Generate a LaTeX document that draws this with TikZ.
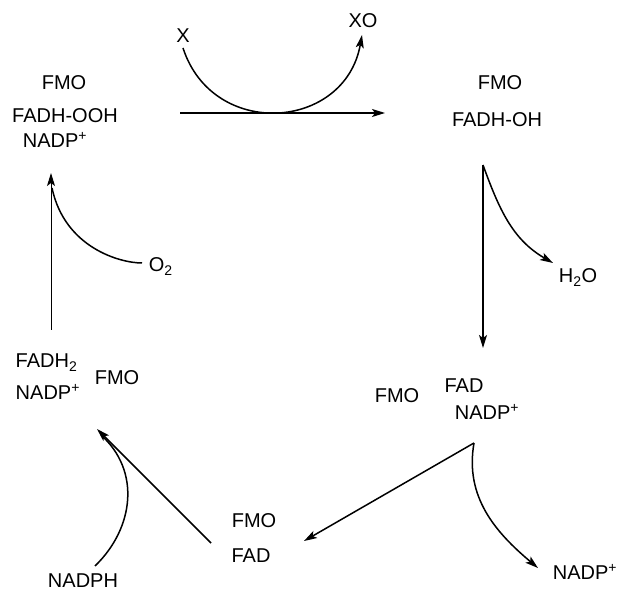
\documentclass[tikz,border=0pt]{standalone}
\usepackage{fontspec}
\setmainfont{Liberation Sans}
\usetikzlibrary{arrows.meta}

\begin{document}
\begin{tikzpicture}[>={Stealth[length=13pt, width=8pt, inset=3pt]}, x=1pt, y=1pt,
    line width=1.5pt,
    lbl/.style={inner sep=0pt, font=\fontsize{20}{24}\selectfont}]
  \useasboundingbox (0,0) rectangle (620,593);

  % FMO FADH-OOH NADP+
  \node[lbl, anchor=base] (fmoA) at (64,503) {FMO};
  \node[lbl, anchor=base] (fadhooh) at (65,470) {FADH-OOH};
  \node[lbl, anchor=base] (nadpA) at (55,445) {NADP\textsuperscript{+}};

  % FMO FADH-OH
  \node[lbl, anchor=base] (fmoB) at (500,503) {FMO};
  \node[lbl, anchor=base] (fadhoh) at (497,466) {FADH-OH};

  % FMO FAD NADP+
  \node[lbl, anchor=base] (fmoC) at (397,190) {FMO};
  \node[lbl, anchor=base] (fadC) at (464,200) {FAD};
  \node[lbl, anchor=base] (nadpC) at (487,173) {NADP\textsuperscript{+}};

  % FMO FAD
  \node[lbl, anchor=base] (fmoD) at (254,65) {FMO};
  \node[lbl, anchor=base] (fadD) at (251,30) {FAD};

  % FADH2 NADP+ FMO
  \node[lbl, anchor=base west] (fadhE) at (15,225) {FADH\textsubscript{2}};
  \node[lbl, anchor=base west] (nadpE) at (15,193) {NADP\textsuperscript{+}};
  \node[lbl, anchor=base] (fmoE) at (117,208) {FMO};

  % substrates and products
  \node[lbl, anchor=base] (subX) at (183,550) {X};
  \node[lbl, anchor=base] (prodXO) at (363,565) {XO};
  \node[lbl, anchor=base] (water) at (578,310) {H\textsubscript{2}O};
  \node[lbl, anchor=base] (nadpOut) at (585,13) {NADP\textsuperscript{+}};
  \node[lbl, anchor=base] (nadph) at (83,5) {NADPH};
  \node[lbl, anchor=base west] (oxy) at (148,321) {O\textsubscript{2}};

  % arrow ends
  \coordinate (topL) at (180,480);
  \coordinate (topR) at (385,480);
  \coordinate (xS) at (183,545);
  \coordinate (xoE) at (362,558);
  \coordinate (rTop) at (483,428);
  \coordinate (rBot) at (483,245);
  \coordinate (h2oE) at (553,330);
  \coordinate (dTop) at (474,150);
  \coordinate (dBot) at (304,52);
  \coordinate (nOut) at (538,25);
  \coordinate (bStart) at (211,50);
  \coordinate (bTip) at (97,164);
  \coordinate (nphS) at (95,27);
  \coordinate (nphE) at (101,158);
  \coordinate (lBot) at (51,263);
  \coordinate (lTip) at (51,420);
  \coordinate (o2S) at (142,330);
  \coordinate (o2E) at (52,405);

  % oxygenation of X
  \draw[->] (topL) -- (topR);
  \draw[->] (xS) to[out=-72, in=-100, distance=97pt] (xoE);

  % loss of water
  \draw[->] (rTop) -- (rBot);
  \draw[->] (rTop) to[out=-70, in=150] (h2oE);

  % release of NADP+
  \draw[->] (dTop) -- (dBot);
  \draw[->] (dTop) to[out=-100, in=140] (nOut);

  % reduction by NADPH
  \draw[->] (bStart) -- (bTip);
  \draw (nphS) to[out=44, in=-42, distance=54pt] (nphE);

  % binding of O2
  \draw[->, line width=1pt] (lBot) -- (lTip);
  \draw (o2S) to[out=180, in=-78, out distance=22pt, in distance=61pt] (o2E);
\end{tikzpicture}
\end{document}
